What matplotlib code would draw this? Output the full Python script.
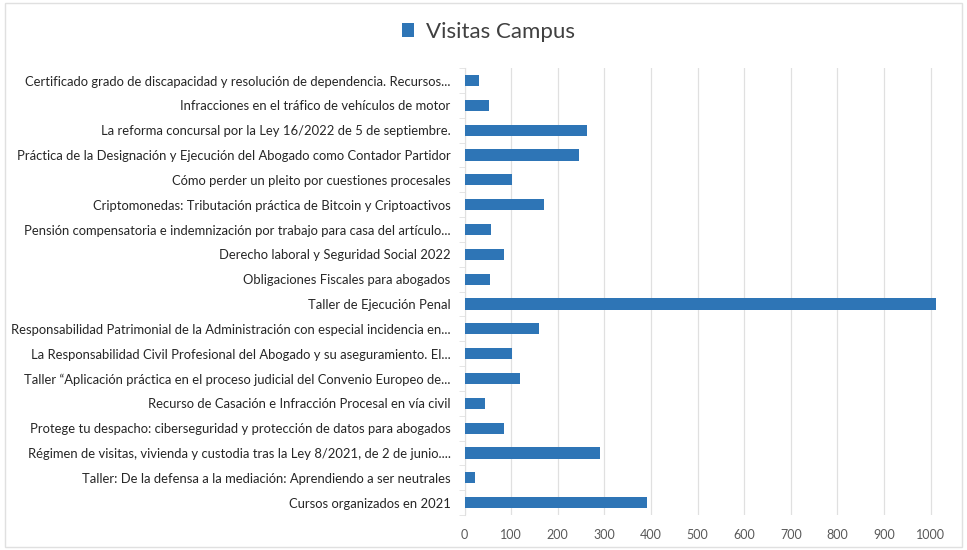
import matplotlib.pyplot as plt
from matplotlib.patches import Rectangle

plt.rcParams['font.family'] = ['Lato', 'DejaVu Sans']

# datos (de abajo hacia arriba)
cursos = [
    'Cursos organizados en 2021',
    'Taller: De la defensa a la mediación: Aprendiendo a ser neutrales',
    'Régimen de visitas, vivienda y custodia tras la Ley 8/2021, de 2 de junio....',
    'Protege tu despacho: ciberseguridad y protección de datos para abogados',
    'Recurso de Casación e Infracción Procesal en vía civil',
    'Taller “Aplicación práctica en el proceso judicial del Convenio Europeo de...',
    'La Responsabilidad Civil Profesional del Abogado y su aseguramiento. El...',
    'Responsabilidad Patrimonial de la Administración con especial incidencia en...',
    'Taller de Ejecución Penal',
    'Obligaciones Fiscales para abogados',
    'Derecho laboral y Seguridad Social 2022',
    'Pensión compensatoria e indemnización por trabajo para casa del artículo...',
    'Criptomonedas: Tributación práctica de Bitcoin y Criptoactivos',
    'Cómo perder un pleito por cuestiones procesales',
    'Práctica de la Designación y Ejecución del Abogado como Contador Partidor',
    'La reforma concursal por la Ley 16/2022 de 5 de septiembre.',
    'Infracciones en el tráfico de vehículos de motor',
    'Certificado grado de discapacidad y resolución de dependencia. Recursos...',
]
visitas = [391, 22, 291, 85, 44, 120, 102, 160, 1011, 54, 85, 57, 170, 102, 245, 263, 52, 30]
ticks_x = [0, 100, 200, 300, 400, 500, 600, 700, 800, 900, 1000]

azul = '#2E75B6'
gris_txt = '#595959'
gris_lin = '#E0E0E0'

fig = plt.figure(figsize=(9.67, 5.5), dpi=100)
ax = fig.add_axes([0.4804, 0.0636, 0.4916, 0.8124])

y = range(len(cursos))
ax.barh(y, visitas, height=0.45, color=azul, label='Visitas Campus', zorder=3)

ax.set_xlim(0, 1020)
ax.set_ylim(-0.5, len(cursos) - 0.5)
ax.set_xticks(ticks_x)
ax.set_xticklabels([str(t) for t in ticks_x], fontsize=9, color=gris_txt)
ax.set_yticks(list(y))
ax.set_yticklabels(cursos, fontsize=9.4, color='#262626')
ax.set_yticks([i - 0.5 for i in range(len(cursos) + 1)], minor=True)
ax.tick_params(axis='y', which='major', length=0, pad=10)
ax.tick_params(axis='y', which='minor', length=4, color=gris_lin)
ax.tick_params(axis='x', length=0, pad=10)

ax.grid(axis='x', color=gris_lin, linewidth=0.9, zorder=0)
for s in ['top', 'right', 'bottom']:
    ax.spines[s].set_visible(False)
ax.spines['left'].set_color(gris_lin)

fig.legend(loc='center', bbox_to_anchor=(0.505, 0.942), frameon=False,
           fontsize=16, handlelength=0.55, handleheight=0.55, handletextpad=0.5,
           labelcolor='#404040')

fig.patches.append(Rectangle((0.005, 0.005), 0.99, 0.99, transform=fig.transFigure,
                             fill=False, edgecolor=gris_lin, linewidth=1))

fig.savefig('out.png', dpi=100)
